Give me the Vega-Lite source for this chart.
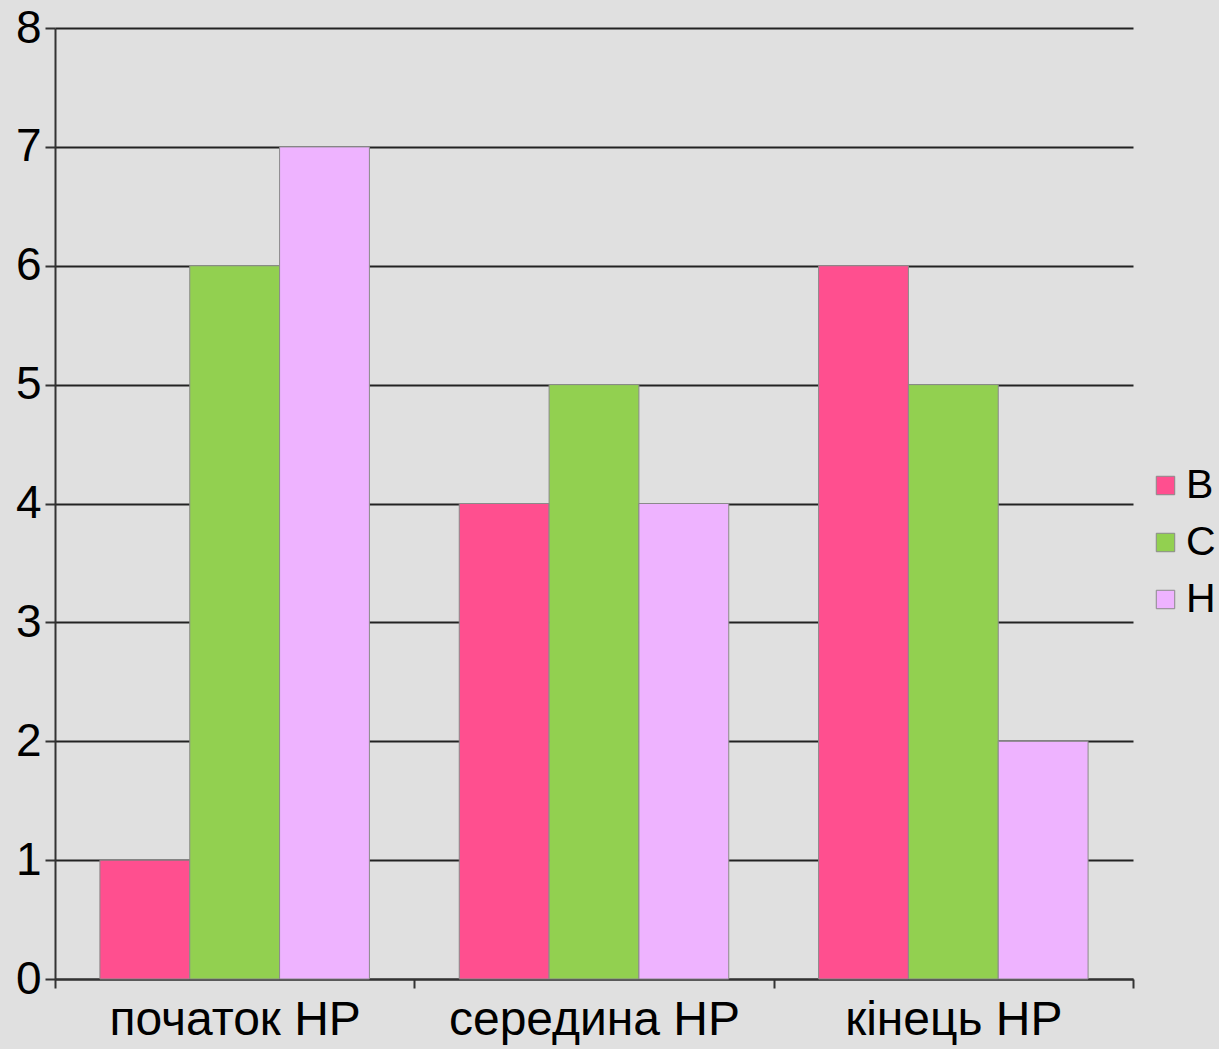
{
  "$schema": "https://vega.github.io/schema/vega-lite/v6.json",
  "autosize": "none",
  "width": 1078,
  "height": 951,
  "padding": {"left": 55, "top": 28, "right": 86, "bottom": 70},
  "background": "#e0e0e0",
  "config": {
    "view": {"stroke": null},
    "font": "Liberation Sans"
  },
  "data": {
    "values": [
      {"period": "початок НР", "group": "B", "value": 1},
      {"period": "початок НР", "group": "C", "value": 6},
      {"period": "початок НР", "group": "H", "value": 7},
      {"period": "середина НР", "group": "B", "value": 4},
      {"period": "середина НР", "group": "C", "value": 5},
      {"period": "середина НР", "group": "H", "value": 4},
      {"period": "кінець НР", "group": "B", "value": 6},
      {"period": "кінець НР", "group": "C", "value": 5},
      {"period": "кінець НР", "group": "H", "value": 2}
    ]
  },
  "mark": {"type": "bar", "stroke": "#8a8a8a", "strokeWidth": 1},
  "encoding": {
    "x": {
      "field": "period",
      "type": "nominal",
      "sort": ["початок НР", "середина НР", "кінець НР"],
      "scale": {"paddingInner": 0, "paddingOuter": 0},
      "axis": {
        "title": null,
        "labelAngle": 0,
        "labelFontSize": 48,
        "labelLimit": 400,
        "labelColor": "#000000",
        "labelPadding": 8,
        "tickBand": "extent",
        "tickSize": 9,
        "tickColor": "#333333",
        "tickWidth": 2,
        "domainColor": "#333333",
        "domainWidth": 2,
        "grid": false
      }
    },
    "xOffset": {"field": "group", "type": "nominal", "scale": {"paddingInner": 0, "paddingOuter": 0.5}},
    "y": {
      "field": "value",
      "type": "quantitative",
      "scale": {"domain": [0, 8], "nice": false},
      "axis": {
        "title": null,
        "values": [0, 1, 2, 3, 4, 5, 6, 7, 8],
        "labelFontSize": 46,
        "labelColor": "#000000",
        "labelPadding": 4,
        "tickSize": 10,
        "tickColor": "#333333",
        "tickWidth": 2,
        "domainColor": "#333333",
        "domainWidth": 2,
        "grid": true,
        "gridColor": "#222222",
        "gridWidth": 2,
        "gridOpacity": 1
      }
    },
    "color": {
      "field": "group",
      "type": "nominal",
      "scale": {"domain": ["B", "C", "H"], "range": ["#ff4f8f", "#92d050", "#eeb3ff"]},
      "legend": {
        "title": null,
        "orient": "none",
        "legendX": 1090,
        "legendY": 437,
        "symbolType": "square",
        "symbolSize": 340,
        "symbolStrokeColor": "#8a8a8a",
        "symbolStrokeWidth": 1,
        "symbolOpacity": 1,
        "labelFontSize": 41,
        "labelLimit": 200,
        "labelColor": "#000000",
        "labelOffset": 0,
        "rowPadding": 15
      }
    }
  }
}
